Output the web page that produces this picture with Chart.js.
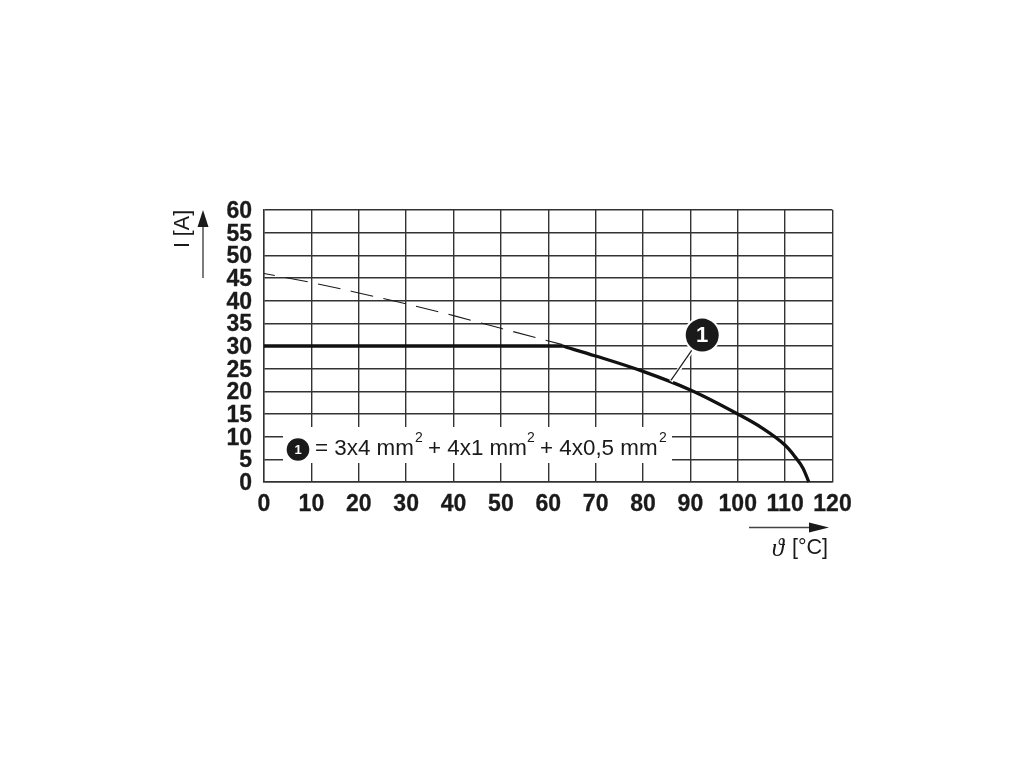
<!DOCTYPE html>
<html>
<head>
<meta charset="utf-8">
<title>I [A] / temperature derating curve</title>
<script src="https://cdn.jsdelivr.net/npm/chart.js@4"></script>
<style>
html,body{margin:0;padding:0;background:#fff;}
canvas{display:block;}
</style>
</head>
<body>
<canvas id="derating" width="1020" height="765"></canvas>
<script>
const xTicks = [0,10,20,30,40,50,60,70,80,90,100,110,120];
const yTicks = [0,5,10,15,20,25,30,35,40,45,50,55,60];

/* thick line: flat part, then the falling curve */
const flatTemp = [0,63];
const flatAmps = [30,30];
const curveTemp = [63,70,80,90,100,105,110,112,113.8,115];
const curveAmps = [30,27.8,24.4,20.3,15,12,8.1,5.7,3,0];

/* thin dashed curve */
const dashTemp = [0,10,20,30,40,50,63];
const dashAmps = [46,44,41.7,39.3,36.7,33.9,30.3];

const calloutTip = [85.9,22.4];
const calloutBadge = [92.5,32.4];

const sans = '"Liberation Sans", Arial, sans-serif';
const ink = "#1a1a1a";
const gridInk = "#333333";

function toPoints(xs, ys) {
  return xs.map((x, i) => ({ x: x, y: ys[i] }));
}

function arrow(ctx, x1, y1, x2, y2, headLen, headW) {
  const a = Math.atan2(y2 - y1, x2 - x1);
  ctx.strokeStyle = "#444";
  ctx.fillStyle = ink;
  ctx.lineWidth = 1.4;
  ctx.beginPath();
  ctx.moveTo(x1, y1);
  ctx.lineTo(x2 - Math.cos(a) * headLen, y2 - Math.sin(a) * headLen);
  ctx.stroke();
  ctx.save();
  ctx.translate(x2, y2);
  ctx.rotate(a);
  ctx.beginPath();
  ctx.moveTo(0, 0);
  ctx.lineTo(-headLen, -headW / 2);
  ctx.lineTo(-headLen, headW / 2);
  ctx.closePath();
  ctx.fill();
  ctx.restore();
}

function badge(ctx, cx, cy, r, ring, size) {
  ctx.fillStyle = "#fff";
  ctx.beginPath();
  ctx.arc(cx, cy, r + ring, 0, Math.PI * 2);
  ctx.fill();
  ctx.fillStyle = ink;
  ctx.beginPath();
  ctx.arc(cx, cy, r, 0, Math.PI * 2);
  ctx.fill();
  ctx.fillStyle = "#fff";
  ctx.font = "bold " + size + "px " + sans;
  ctx.textAlign = "center";
  ctx.textBaseline = "middle";
  ctx.fillText("1", cx, cy + 1);
}

/* axis arrows, axis names, callout and the cable legend */
const extras = {
  id: "extras",
  beforeDraw(chart) {
    // y labels sit a little lower than their grid lines
    chart.scales.y.getLabelItems().forEach(item => {
      item.options.translation[1] = chart.scales.y.getPixelForValue(Number(item.label)) + 1.5;
    });
  },
  afterDatasetsDraw(chart) {
    const ctx = chart.ctx;
    const sx = chart.scales.x;
    const sy = chart.scales.y;
    ctx.save();

    // callout line with a white edge that cuts the curve
    const tx = sx.getPixelForValue(calloutTip[0]);
    const ty = sy.getPixelForValue(calloutTip[1]);
    const bx = sx.getPixelForValue(calloutBadge[0]);
    const by = sy.getPixelForValue(calloutBadge[1]);
    ctx.strokeStyle = "#fff";
    ctx.lineWidth = 4;
    ctx.beginPath();
    ctx.moveTo(tx, ty + 1);
    ctx.lineTo(bx, by);
    ctx.stroke();
    ctx.strokeStyle = ink;
    ctx.lineWidth = 1.2;
    ctx.beginPath();
    ctx.moveTo(tx, ty);
    ctx.lineTo(bx, by);
    ctx.stroke();
    badge(ctx, bx, by, 16.5, 2, 22);

    // legend box on top of the grid
    ctx.fillStyle = "#fff";
    ctx.fillRect(283, 427, 389, 36);
    badge(ctx, 298, 449.5, 11.3, 0, 13);
    ctx.fillStyle = ink;
    ctx.textBaseline = "alphabetic";
    ctx.textAlign = "left";
    ctx.font = "22.4px " + sans;
    ctx.fillText("= 3x4 mm", 315, 455);
    ctx.fillText("+ 4x1 mm", 428, 455);
    ctx.fillText("+ 4x0,5 mm", 540, 455);
    ctx.font = "14px " + sans;
    ctx.fillText("2", 415, 442);
    ctx.fillText("2", 527, 442);
    ctx.fillText("2", 659, 442);

    // y axis name and arrow
    arrow(ctx, 203, 278, 203, 210, 17, 11);
    ctx.save();
    ctx.translate(183, 229);
    ctx.rotate(-Math.PI / 2);
    ctx.fillStyle = ink;
    ctx.font = "21.5px " + sans;
    ctx.textAlign = "center";
    ctx.textBaseline = "middle";
    ctx.fillText("I [A]", 0, 0);
    ctx.restore();

    // x axis name and arrow
    arrow(ctx, 749, 527.5, 829, 527.5, 20, 10);
    ctx.fillStyle = ink;
    ctx.font = "21.5px " + sans;
    ctx.textAlign = "right";
    ctx.textBaseline = "middle";
    ctx.fillText("[\u00B0C]", 828, 548);
    ctx.font = "italic 25px \"Liberation Serif\", serif";
    ctx.textAlign = "center";
    ctx.fillText("\u03D1", 778, 549);

    ctx.restore();
  }
};

const tickFont = { family: sans, size: 23, weight: "bold" };

function thickLine(label, xs, ys) {
  return {
    label: label,
    data: toPoints(xs, ys),
    showLine: true,
    borderColor: "#111111",
    borderWidth: 3.3,
    pointRadius: 0,
    cubicInterpolationMode: "monotone",
    clip: false
  };
}

new Chart(document.getElementById("derating"), {
  type: "scatter",
  data: {
    datasets: [
      {
        label: "dashed",
        data: toPoints(dashTemp, dashAmps),
        showLine: true,
        borderColor: ink,
        borderWidth: 1.1,
        borderDash: [23, 10.5],
        borderDashOffset: 12,
        pointRadius: 0,
        cubicInterpolationMode: "monotone",
        clip: false
      },
      thickLine("flat", flatTemp, flatAmps),
      thickLine("curve", curveTemp, curveAmps)
    ]
  },
  options: {
    responsive: false,
    animation: false,
    layout: { padding: { left: 204, right: 187.5, top: 210, bottom: 243 } },
    plugins: { legend: { display: false }, tooltip: { enabled: false } },
    scales: {
      x: {
        type: "linear",
        min: 0,
        max: 120,
        afterBuildTicks(scale) { scale.ticks = xTicks.map(v => ({ value: v })); },
        afterFit(scale) { scale.height = 40; },
        grid: { color: gridInk, lineWidth: 1.4, drawTicks: false },
        border: { color: gridInk, width: 1.4 },
        ticks: { color: ink, font: tickFont, padding: 9, autoSkip: false, maxRotation: 0, textStrokeColor: ink, textStrokeWidth: 0.3 }
      },
      y: {
        type: "linear",
        min: 0,
        max: 60,
        afterBuildTicks(scale) { scale.ticks = yTicks.map(v => ({ value: v })); },
        afterFit(scale) { scale.width = 60; },
        grid: { color: gridInk, lineWidth: 1.4, drawTicks: false },
        border: { color: gridInk, width: 1.4 },
        ticks: { color: ink, font: tickFont, padding: 12, autoSkip: false, textStrokeColor: ink, textStrokeWidth: 0.3 }
      }
    }
  },
  plugins: [extras]
});
</script>
</body>
</html>
